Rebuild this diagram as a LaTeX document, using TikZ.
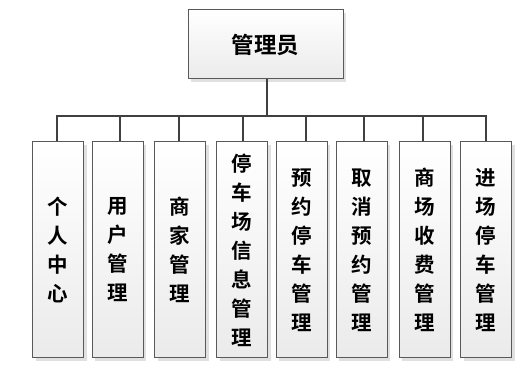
\documentclass[tikz,border=0pt]{standalone}
\usepackage{fontspec}
\newfontfamily\cjk{Noto Sans CJK SC Bold}
\usetikzlibrary{shadows}
\begin{document}
\begin{tikzpicture}[x=1pt,y=-1pt,
  box/.style={draw=black!65,line width=1pt,top color=white,bottom color=black!8,
    drop shadow={shadow xshift=3pt,shadow yshift=-3pt,fill=black!12,opacity=1},
    inner sep=0pt,align=center,font=\cjk\fontsize{20.5}{29}\selectfont},
  leaf/.style={box,minimum width=51pt,minimum height=216pt},
  conn/.style={draw=black!75,line width=1.4pt}]
\useasboundingbox (0,0) rectangle (531,374);
\node[box,minimum width=155pt,minimum height=69pt,font=\cjk\fontsize{22.5}{25}\selectfont] (root) at (265.5,44.5) {管理员};
\node[leaf] (a) at (58,250) {个\\人\\中\\心};
\node[leaf] (b) at (117.5,250) {用\\户\\管\\理};
\node[leaf] (c) at (180,250) {商\\家\\管\\理};
\node[leaf] (d) at (242,250) {停\\车\\场\\信\\息\\管\\理};
\node[leaf] (e) at (301.5,250) {预\\约\\停\\车\\管\\理};
\node[leaf] (f) at (361.5,250) {取\\消\\预\\约\\管\\理};
\node[leaf] (g) at (424.5,250) {商\\场\\收\\费\\管\\理};
\node[leaf] (h) at (486,250) {进\\场\\停\\车\\管\\理};
\coordinate (bus) at (267,116);
\draw[conn] (root.south -| bus) -- (bus);
\draw[conn] (a.north -| 57,0) |- (bus) -| (h.north -| 486,0);
\foreach \n/\x in {b/120,c/179,d/243,e/306,f/364,g/423}
  \draw[conn] (\x,116) -- (\n.north -| \x,0);
\end{tikzpicture}
\end{document}
